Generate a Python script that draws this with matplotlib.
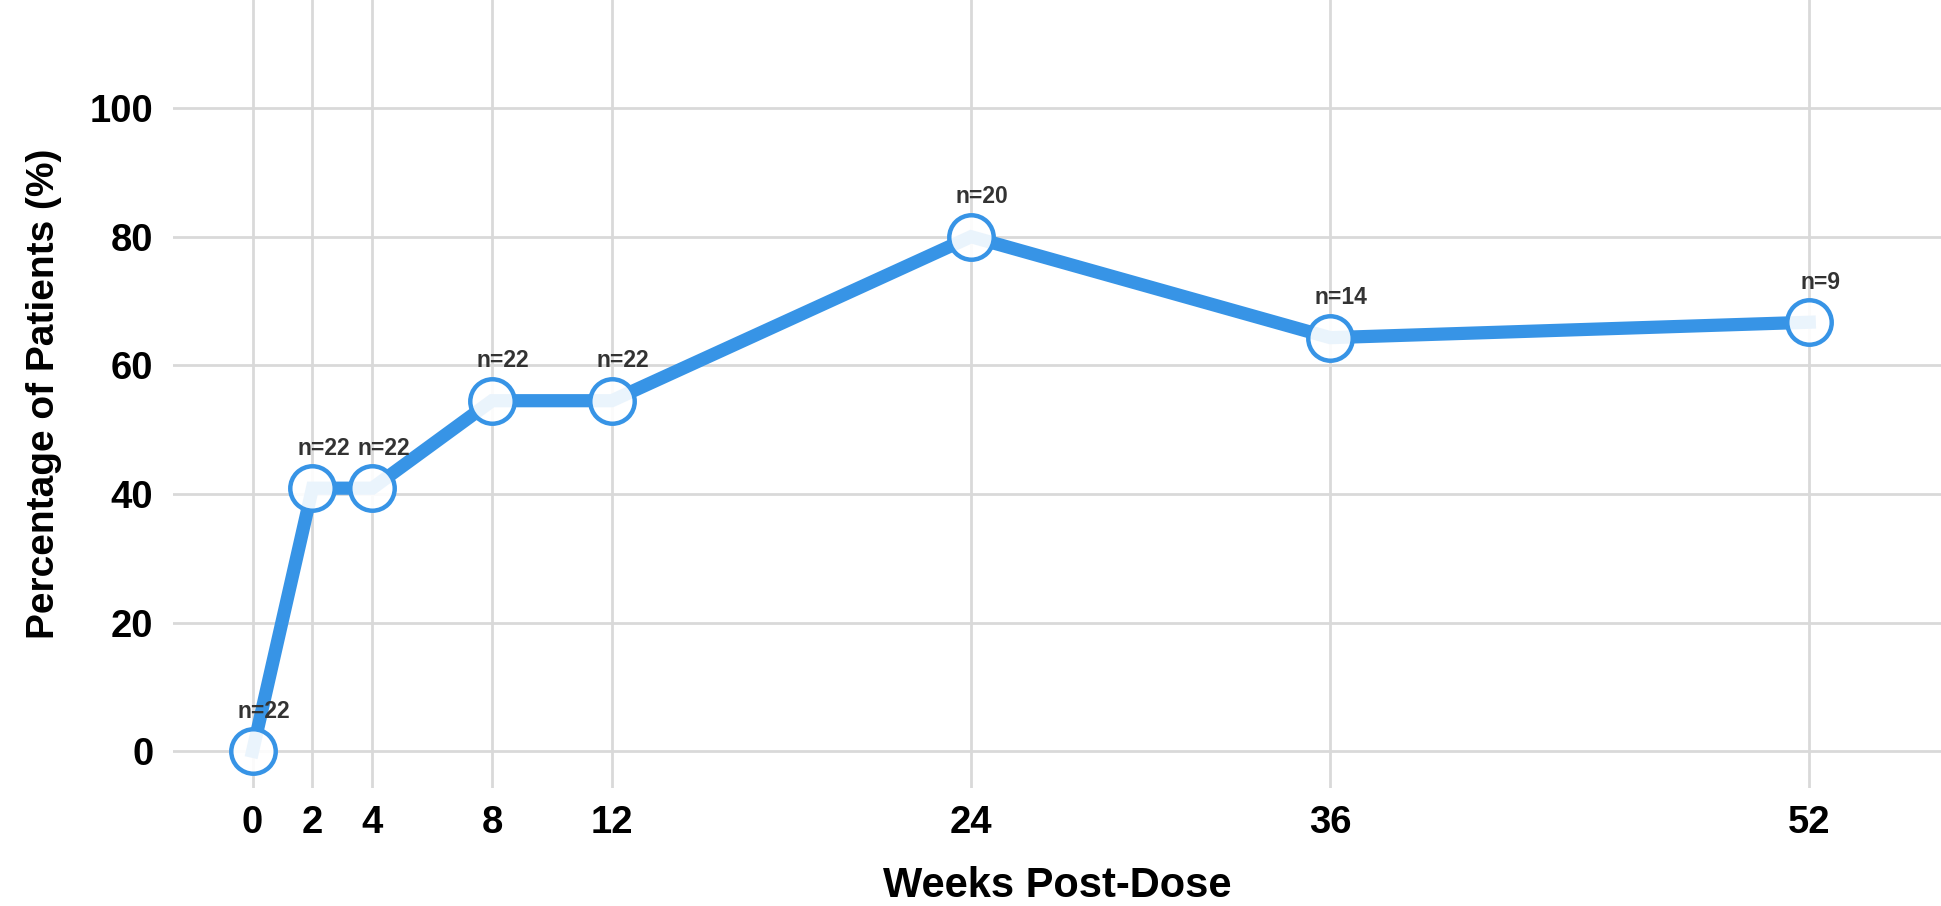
import matplotlib
matplotlib.use("Agg")
import matplotlib.pyplot as plt

plt.rcParams['font.family'] = ['Liberation Sans', 'DejaVu Sans']

weeks = [0, 2, 4, 8, 12, 24, 36, 52]
pct_patients = [0.0, 40.9, 40.9, 54.5, 54.5, 80.0, 64.3, 66.7]
n_labels = ['n=22', 'n=22', 'n=22', 'n=22', 'n=22', 'n=20', 'n=14', 'n=9']
y_ticks = [0, 20, 40, 60, 80, 100]

line_color = '#3794e6'
grid_color = '#d9d9d9'

fig = plt.figure(figsize=(19.41, 9.06), dpi=100)
ax = fig.add_axes([0.0891, 0.130, 0.9109, 0.870])

ax.plot(weeks, pct_patients, color=line_color, lw=9.5, solid_joinstyle='miter',
        marker='o', ms=32, mew=3.2, mec=line_color, mfc=(1, 1, 1, 0.9), zorder=3)

for x, y, lab in zip(weeks, pct_patients, n_labels):
    ax.annotate(lab, (x, y), xytext=(8, 24), textcoords='offset points',
                ha='center', va='baseline', fontsize=16.5, fontweight='bold',
                color='#333333', zorder=4)

ax.set_xlim(-2.66, 56.4)
ax.set_ylim(-5.75, 116.8)
ax.set_xticks(weeks)
ax.set_yticks(y_ticks)
ax.tick_params(length=0, labelsize=27.5)
ax.tick_params(axis='x', pad=12)
ax.tick_params(axis='y', pad=14)
for lab in ax.get_xticklabels() + ax.get_yticklabels():
    lab.set_fontweight('bold')

ax.grid(True, color=grid_color, lw=2)
ax.set_axisbelow(True)
for s in ax.spines.values():
    s.set_visible(False)

ax.set_xlabel('Weeks Post-Dose', fontsize=30, fontweight='bold', labelpad=18)
ax.set_ylabel('Percentage of Patients (%)', fontsize=28, fontweight='bold', labelpad=20)

fig.savefig('out.png', dpi=100)
